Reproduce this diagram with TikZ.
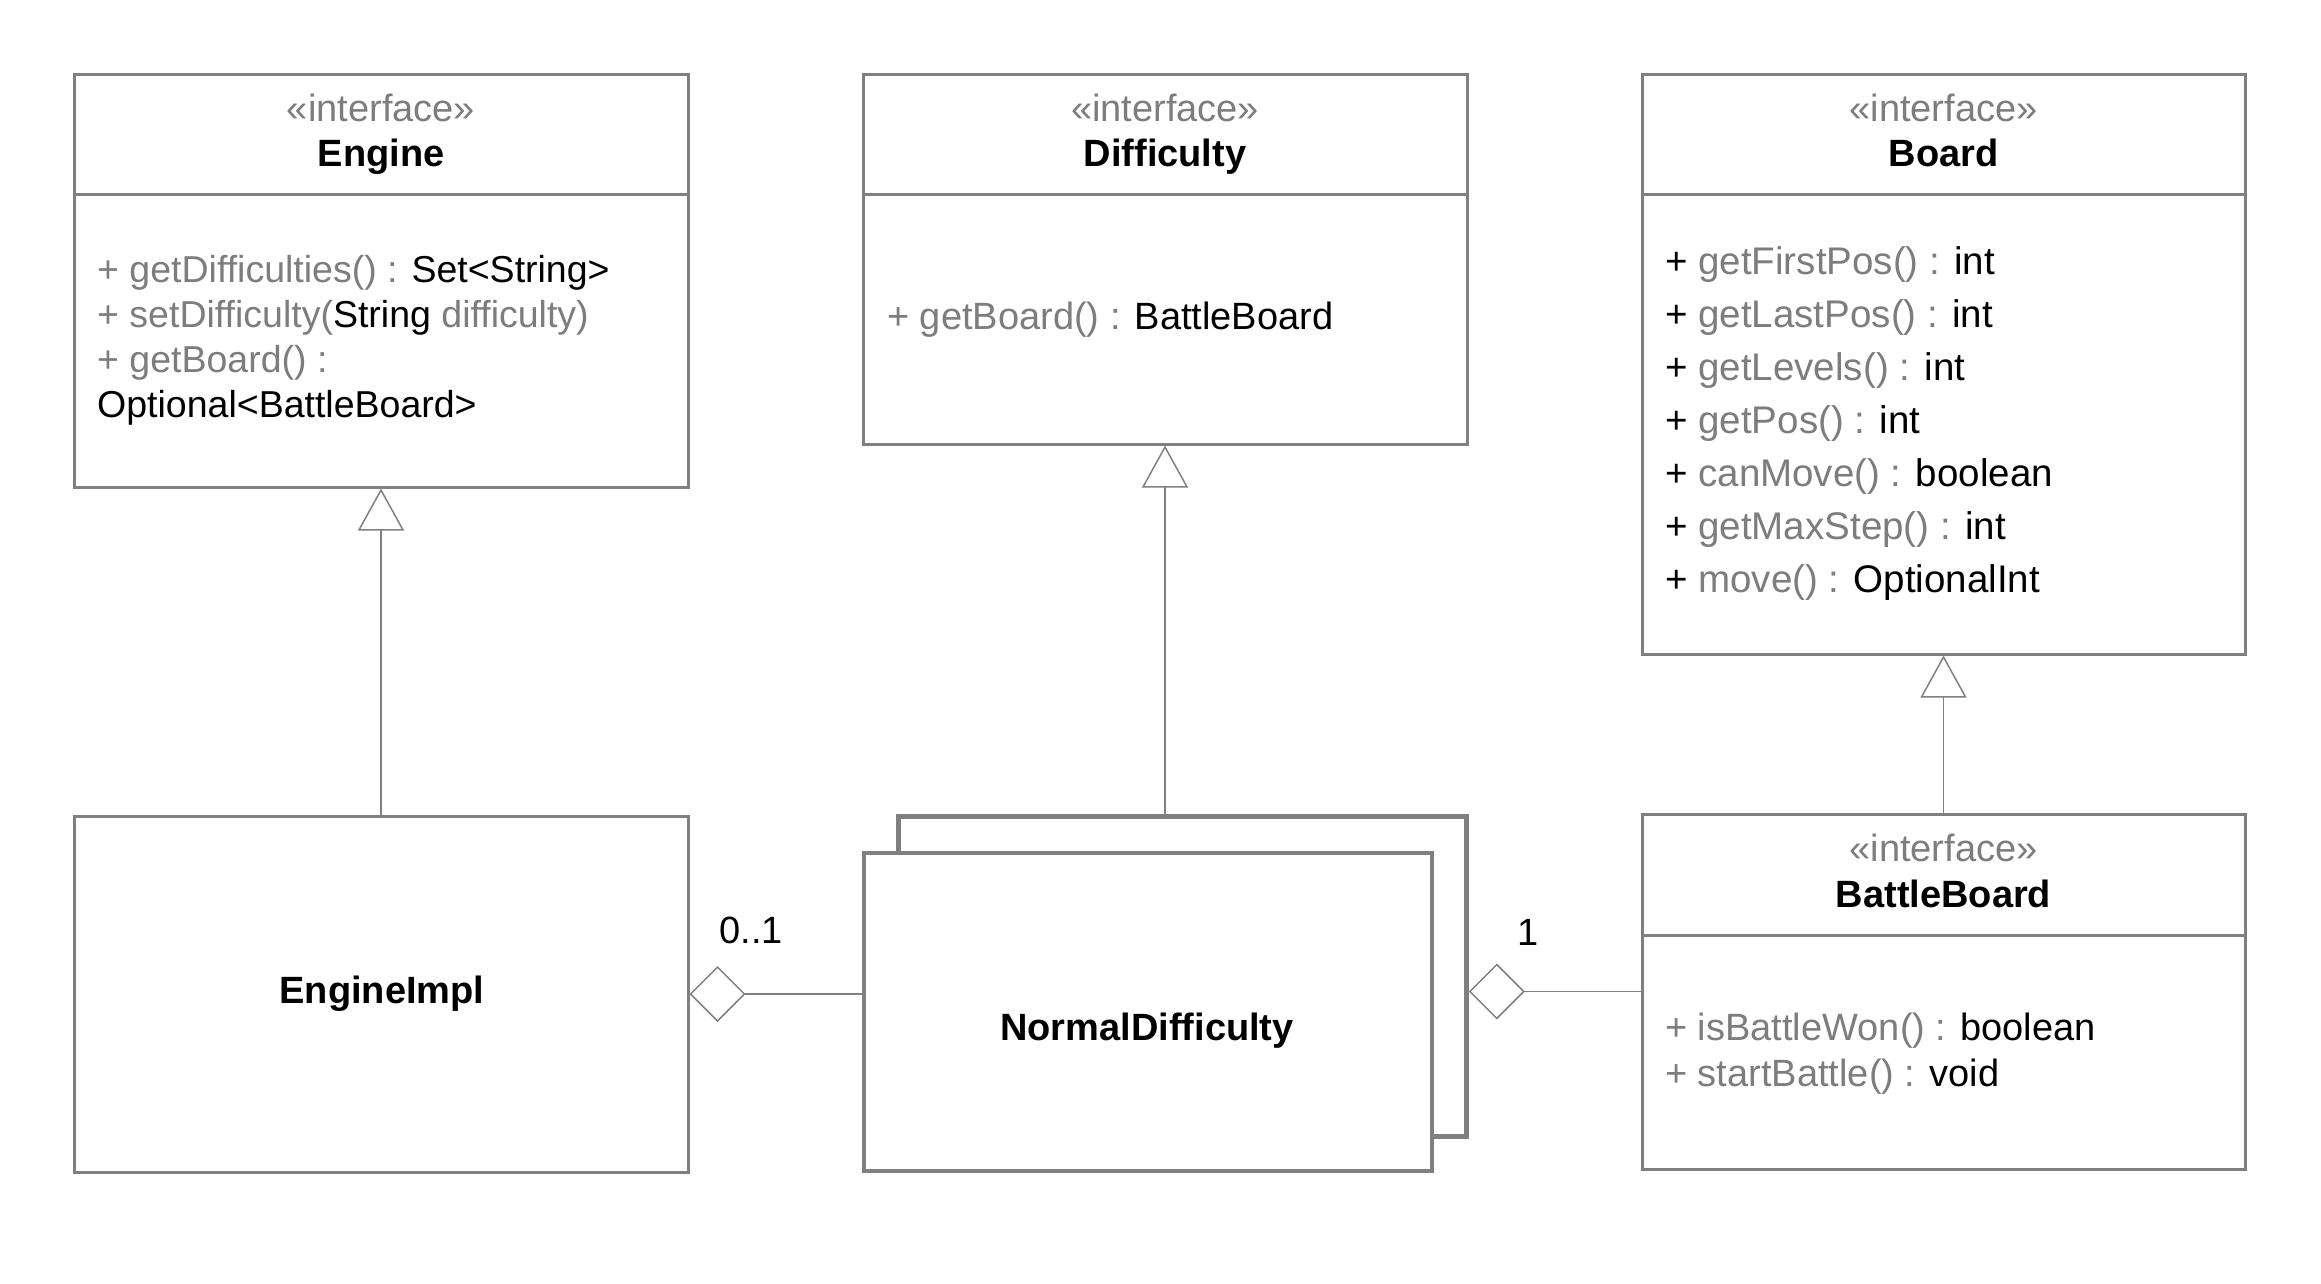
\documentclass[tikz,border=0pt]{standalone}
\usepackage{fontspec}
\setmainfont{Liberation Sans}
\usetikzlibrary{arrows.meta}
\definecolor{bord}{RGB}{128,128,128}
\definecolor{gtxt}{RGB}{125,125,125}
\newcommand{\gx}[1]{\textcolor{gtxt}{#1}}
\begin{document}
\begin{tikzpicture}[x=1pt,y=-1pt,
  every node/.style={font=\fontsize{38}{45}\selectfont, inner sep=0pt},
  clsbox/.style={draw=bord, line width=3pt, fill=white, rectangle, inner sep=0pt},
  stereo/.style={text=gtxt, anchor=base},
  cname/.style={font=\fontsize{38}{45}\selectfont\bfseries},
  ops/.style={anchor=west, align=left},
  divline/.style={draw=bord, line width=3pt},
  conn/.style={draw=bord, line width=1.5pt},
  realize/.style={conn, -{Triangle[open, length=42pt, width=46pt, line width=1.5pt, fill=white]}},
  aggr/.style={conn, -{Diamond[open, length=56pt, width=56pt, line width=1.5pt, fill=white]}},
  mult/.style={text=black}
]
\useasboundingbox (0,0) rectangle (2321,1283);

% ---------- Engine ----------
\node[clsbox, minimum width=614, minimum height=413] (engine) at (381,280.5) {};
\draw[divline] (engine.west |- 0,194) -- (engine.east |- 0,194);
\node[stereo] (engineS) at (381,121.5) {«interface»};
\node[cname, anchor=base] (engineN) at (381,166.5) {Engine};
\node[ops, font=\fontsize{37.5}{45}\selectfont] (engineO) at (97,340) {\gx{+ getDifficulties() :} Set<String>\\
\gx{+ setDifficulty(}String \gx{difficulty)}\\
\gx{+ getBoard() :}\\
Optional<BattleBoard>};

% ---------- Difficulty ----------
\node[clsbox, minimum width=604, minimum height=370] (diff) at (1165,259) {};
\draw[divline] (diff.west |- 0,194) -- (diff.east |- 0,194);
\node[stereo] (diffS) at (1165,121.5) {«interface»};
\node[cname, anchor=base] (diffN) at (1165,166.5) {Difficulty};
\node[ops] (diffO) at (887,319.5) {\gx{+ getBoard() :} BattleBoard};

% ---------- Board ----------
\node[clsbox, minimum width=603, minimum height=580] (board) at (1943.5,364) {};
\draw[divline] (board.west |- 0,194) -- (board.east |- 0,194);
\node[stereo] (boardS) at (1943.5,121.5) {«interface»};
\node[cname, anchor=base] (boardN) at (1943.5,166.5) {Board};
\node[ops, font=\fontsize{38.5}{53}\selectfont] (boardO) at (1665,423.5) {+ \gx{getFirstPos() :} int\\
+ \gx{getLastPos() :} int\\
+ \gx{getLevels() :} int\\
+ \gx{getPos() :} int\\
+ \gx{canMove() :} boolean\\
+ \gx{getMaxStep() :} int\\
+ \gx{move() :} OptionalInt};

% ---------- EngineImpl ----------
\node[clsbox, minimum width=614, minimum height=356] (impl) at (381,994) {};
\node[cname] (implN) at (382,993.5) {EngineImpl};

% ---------- NormalDifficulty (stacked) ----------
\node[clsbox, line width=4.5pt, minimum width=568, minimum height=320] (ndback) at (1182.5,976.5) {};
\node[clsbox, line width=4.5pt, minimum width=568, minimum height=318] (ndfront) at (1148,1012) {};
\node[cname] (ndN) at (1147,1030.5) {NormalDifficulty};

% ---------- BattleBoard ----------
\node[clsbox, minimum width=603, minimum height=355] (battle) at (1943.5,991.5) {};
\draw[divline] (battle.west |- 0,935) -- (battle.east |- 0,935);
\node[stereo] (battleS) at (1943.5,861.5) {«interface»};
\node[cname, anchor=base] (battleN) at (1943.5,907.5) {BattleBoard};
\node[ops, font=\fontsize{38}{46}\selectfont] (battleO) at (1665,1053.5) {\gx{+ isBattleWon() :} boolean\\
\gx{+ startBattle() :} void};

% ---------- connectors ----------
\draw[realize] (impl.north) -- (engine.south);
\draw[realize] (ndback.north -| diff.south) -- (diff.south);
\draw[realize] (battle.north) -- (board.south);
\draw[aggr] (ndfront.west |- impl.east) -- (impl.east);
\draw[aggr] (battle.west) -- (ndback.east |- battle.west);

% multiplicities
\node[mult] (m01) at (751,930) {0..1};
\node[mult] (m1) at (1528,932) {1};
\end{tikzpicture}
\end{document}
